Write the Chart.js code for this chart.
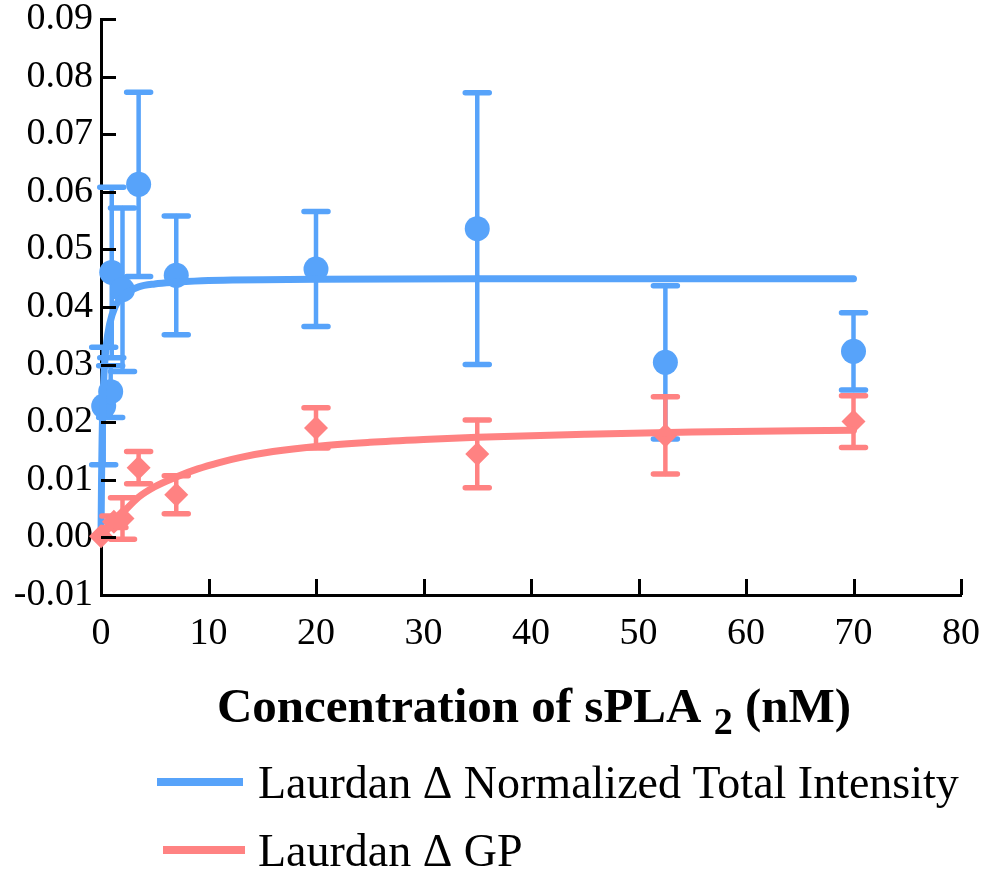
<!DOCTYPE html>
<html>
<head>
<meta charset="utf-8">
<script src="https://cdn.jsdelivr.net/npm/chart.js@4.4.1/dist/chart.umd.min.js"></script>
<style>
  html, body { margin: 0; padding: 0; background: #fff; }
  #wrap { width: 985px; height: 871px; }
</style>
</head>
<body>
<div id="wrap"><canvas id="grafico" width="985" height="871"></canvas></div>
<script>
// sPLA2 concentration (nM) and measured changes
const blueX   = [0.25, 0.9, 1, 2, 3.5, 7, 20, 35, 52.5, 70];
const blueY   = [0.0228, 0.0253, 0.0460, 0.0430, 0.0613, 0.0455, 0.0466, 0.0536, 0.0304, 0.0323];
const blueErr = [0.0102, 0.0045, 0.0148, 0.0142, 0.0160, 0.0103, 0.0100, 0.0236, 0.0133, 0.0067];

const redX   = [0, 1.2, 2, 3.5, 7, 20, 35, 52.5, 70];
const redY   = [0.0002, 0.0027, 0.0033, 0.0121, 0.0074, 0.0190, 0.0145, 0.0177, 0.0201];
const redErr = [0, 0.0010, 0.0036, 0.0028, 0.0033, 0.0035, 0.0059, 0.0067, 0.0045];

// fitted binding curves
const blueFitX = [0, 0.05, 0.1, 0.2, 0.3, 0.5, 0.8, 1.3, 2, 2.4, 3.5, 5, 7, 10, 20, 35, 52.5, 70];
const blueFitY = [0, 0.0100, 0.0170, 0.0245, 0.0290, 0.0335, 0.0370, 0.0400, 0.0418, 0.0425, 0.0435, 0.0440, 0.0443, 0.0446, 0.0448, 0.0449, 0.0449, 0.0449];
const redFitX = [0, 1, 2, 3.5, 5, 7, 9, 11, 13, 16, 20, 25, 30, 35, 45, 55, 70];
const redFitY = [0, 0.0022, 0.0042, 0.0070, 0.0088, 0.0105, 0.0119, 0.0130, 0.0139, 0.0149, 0.0158, 0.0165, 0.0170, 0.0174, 0.0179, 0.0183, 0.0186];

const xTicks = [0, 10, 20, 30, 40, 50, 60, 70, 80];
const yTicks = [-0.01, 0, 0.01, 0.02, 0.03, 0.04, 0.05, 0.06, 0.07, 0.08, 0.09];

const legendLabels = ['Laurdan \u0394 Normalized Total Intensity', 'Laurdan \u0394 GP'];
const xTitle = ['Concentration of sPLA', '2', ' (nM)'];

const AZUL = '#57a3fa';
const VERMELHO = '#ff8282';

function pares(xs, ys) {
    return xs.map((x, i) => ({ x: x, y: ys[i] }));
}

// barras de erro desenhadas antes dos marcadores de cada série
const barrasErro = {
    id: 'barrasErro',
    beforeDatasetDraw(chart, args) {
        const ds = chart.data.datasets[args.index];
        if (!ds.erros) return;
        const ctx = chart.ctx;
        const xs = chart.scales.x, ys = chart.scales.y;
        ctx.save();
        ctx.strokeStyle = ds.backgroundColor;
        ctx.lineCap = 'round';
        ds.data.forEach((p, i) => {
            const e = ds.erros[i];
            if (!e) return;
            const px = xs.getPixelForValue(p.x);
            const top = ys.getPixelForValue(p.y + e);
            const bot = ys.getPixelForValue(p.y - e);
            ctx.lineWidth = 4.5;
            ctx.beginPath();
            ctx.moveTo(px, top);
            ctx.lineTo(px, bot);
            ctx.stroke();
            ctx.lineWidth = 5.5;
            ctx.beginPath();
            ctx.moveTo(px - 12, top); ctx.lineTo(px + 12, top);
            ctx.moveTo(px - 12, bot); ctx.lineTo(px + 12, bot);
            ctx.stroke();
        });
        ctx.restore();
    }
};

// ticks para dentro, título do eixo x e legenda
const extras = {
    id: 'extras',
    afterDraw(chart) {
        const ctx = chart.ctx;
        const xs = chart.scales.x, ys = chart.scales.y;
        const area = chart.chartArea;
        ctx.save();
        ctx.strokeStyle = '#000';
        ctx.lineWidth = 3;
        ctx.beginPath();
        xTicks.forEach(v => {
            const px = Math.round(xs.getPixelForValue(v)) + 0.5;
            ctx.moveTo(px, area.bottom);
            ctx.lineTo(px, area.bottom - 16);
        });
        yTicks.forEach(v => {
            const py = Math.round(ys.getPixelForValue(v)) + 0.5;
            ctx.moveTo(area.left, py);
            ctx.lineTo(area.left + 15, py);
        });
        ctx.stroke();

        // título do eixo x com subscrito
        ctx.fillStyle = '#000';
        ctx.textBaseline = 'alphabetic';
        const fonteT = 'bold 49px "Liberation Serif", serif';
        const fonteS = 'bold 38px "Liberation Serif", serif';
        ctx.font = fonteT;
        const w0 = ctx.measureText(xTitle[0] + ' ').width;
        const w2 = ctx.measureText(xTitle[2]).width;
        ctx.font = fonteS;
        const w1 = ctx.measureText(xTitle[1]).width;
        const total = w0 + w1 + w2;
        let tx = 534 - total / 2;
        const base = 722;
        ctx.font = fonteT;
        ctx.fillText(xTitle[0] + ' ', tx, base);
        tx += w0;
        ctx.font = fonteS;
        ctx.fillText(xTitle[1], tx, base + 12);
        tx += w1;
        ctx.font = fonteT;
        ctx.fillText(xTitle[2], tx, base);

        // legenda
        const itens = [
            { cor: AZUL, x0: 157, x1: 243, y: 782, texto: legendLabels[0] },
            { cor: VERMELHO, x0: 163, x1: 245, y: 850, texto: legendLabels[1] }
        ];
        ctx.font = '46px "Liberation Serif", serif';
        ctx.textBaseline = 'middle';
        itens.forEach(it => {
            ctx.strokeStyle = it.cor;
            ctx.lineWidth = 8;
            ctx.lineCap = 'butt';
            ctx.beginPath();
            ctx.moveTo(it.x0, it.y);
            ctx.lineTo(it.x1, it.y);
            ctx.stroke();
            ctx.fillStyle = '#000';
            ctx.fillText(it.texto, 258, it.y + 4);
        });
        ctx.restore();
    }
};

const ctx = document.getElementById('grafico').getContext('2d');
new Chart(ctx, {
    type: 'scatter',
    data: {
        datasets: [
            {
                label: legendLabels[1] + ' fit',
                type: 'line',
                data: pares(redFitX, redFitY),
                borderColor: VERMELHO,
                borderWidth: 7,
                borderCapStyle: 'round',
                cubicInterpolationMode: 'monotone',
                pointRadius: 0,
                clip: false,
                order: 1
            },
            {
                label: legendLabels[1],
                data: pares(redX, redY),
                erros: redErr,
                backgroundColor: VERMELHO,
                borderColor: VERMELHO,
                pointStyle: 'rectRot',
                pointRadius: 12,
                borderWidth: 0,
                clip: false,
                order: 2
            },
            {
                label: legendLabels[0] + ' fit',
                type: 'line',
                data: pares(blueFitX, blueFitY),
                borderColor: AZUL,
                borderWidth: 7,
                borderCapStyle: 'round',
                cubicInterpolationMode: 'monotone',
                pointRadius: 0,
                clip: false,
                order: 3
            },
            {
                label: legendLabels[0],
                data: pares(blueX, blueY),
                erros: blueErr,
                backgroundColor: AZUL,
                borderColor: AZUL,
                pointStyle: 'circle',
                pointRadius: 12.5,
                borderWidth: 0,
                clip: false,
                order: 4
            }
        ]
    },
    options: {
        responsive: false,
        animation: false,
        layout: { padding: { top: 19, right: 24, left: 0, bottom: 0 } },
        plugins: {
            legend: { display: false },
            tooltip: { enabled: false }
        },
        scales: {
            x: {
                type: 'linear',
                min: 0,
                max: 80,
                z: 1,
                grid: { display: false, drawTicks: false },
                border: { color: '#000', width: 3 },
                afterBuildTicks: s => { s.ticks = xTicks.map(v => ({ value: v })); },
                afterFit: s => { s.height = 276; s.paddingLeft = 0; s.paddingRight = 0; },
                ticks: {
                    padding: 16,
                    color: '#000',
                    font: { family: '"Liberation Serif", serif', size: 38 },
                    callback: v => String(v)
                }
            },
            y: {
                type: 'linear',
                min: -0.01,
                max: 0.09,
                z: 1,
                grid: { display: false, drawTicks: false },
                border: { color: '#000', width: 3 },
                afterBuildTicks: s => { s.ticks = yTicks.map(v => ({ value: v })); },
                afterFit: s => { s.width = 101; s.paddingTop = 0; s.paddingBottom = 0; },
                ticks: {
                    padding: 8,
                    color: '#000',
                    font: { family: '"Liberation Serif", serif', size: 38 },
                    callback: v => v.toFixed(2)
                }
            }
        }
    },
    plugins: [barrasErro, extras]
});
</script>
</body>
</html>
